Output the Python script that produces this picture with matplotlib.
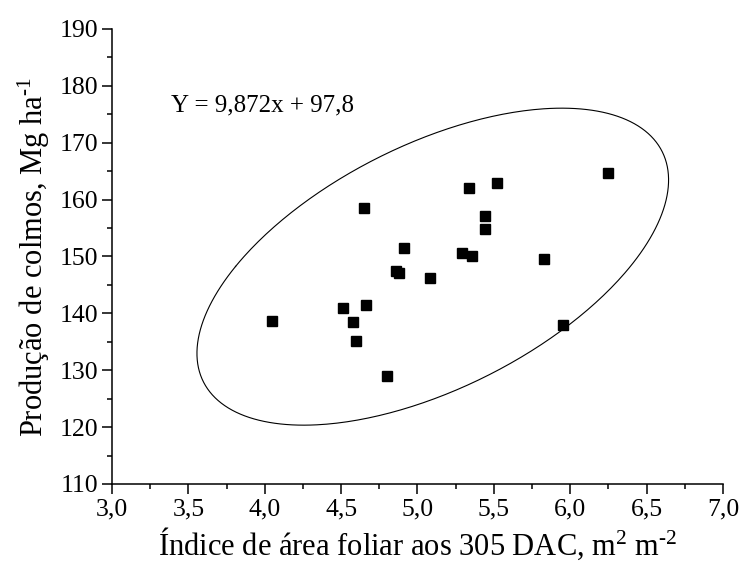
import numpy as np
import matplotlib
matplotlib.use("Agg")
import matplotlib.pyplot as plt
from matplotlib.ticker import MultipleLocator, FuncFormatter

plt.rcParams['font.family'] = ['Liberation Serif', 'DejaVu Serif']
plt.rcParams['mathtext.fontset'] = 'custom'
plt.rcParams['mathtext.rm'] = 'Liberation Serif'
plt.rcParams['mathtext.it'] = 'Liberation Serif:italic'

# leaf area index (x) and stalk yield (y)
iaf = [4.05, 4.51, 4.66, 4.58, 4.60, 4.80, 4.65, 4.91, 4.86, 4.88,
       5.08, 5.29, 5.36, 5.34, 5.52, 5.44, 5.44, 5.83, 5.95, 6.25]
producao = [138.7, 141.0, 141.4, 138.5, 135.1, 128.9, 158.5, 151.5, 147.4, 147.1,
            146.3, 150.7, 150.0, 162.0, 163.0, 157.2, 154.8, 149.5, 137.9, 164.7]
equacao = "Y = 9,872x + 97,8"

x = np.array(iaf)
y = np.array(producao)
n = len(x)

# 95% confidence ellipse for the population (Origin style)
cov = np.cov(x, y)
f95 = (n - 2) / 2 * (0.05 ** (-2 / (n - 2)) - 1)
k2 = 2 * (n - 1) * (n + 1) / (n * (n - 2)) * f95
vals, vecs = np.linalg.eigh(cov)
t = np.linspace(0, 2 * np.pi, 400)
circ = np.vstack([np.cos(t), np.sin(t)])
ell = vecs @ (np.sqrt(vals * k2)[:, None] * circ)
ex = ell[0] + x.mean()
ey = ell[1] + y.mean()

fig = plt.figure(figsize=(7.42, 5.67), dpi=100)
ax = fig.add_axes([0.1509, 0.1464, 0.8235, 0.8025])

ax.plot(ex, ey, color='black', lw=0.8)
ax.plot(x, y, 's', color='black', ms=7)

ax.text(3.386, 176.6, equacao, fontsize=18, ha='left', va='center')

ax.set_xlim(3.0, 7.0)
ax.set_ylim(110, 190)
ax.xaxis.set_major_locator(MultipleLocator(0.5))
ax.xaxis.set_minor_locator(MultipleLocator(0.25))
ax.yaxis.set_major_locator(MultipleLocator(10))
ax.yaxis.set_minor_locator(MultipleLocator(5))
ax.xaxis.set_major_formatter(FuncFormatter(lambda v, p: f"{v:.1f}".replace('.', ',')))

for s in ['top', 'right']:
    ax.spines[s].set_visible(False)
for s in ['left', 'bottom']:
    ax.spines[s].set_linewidth(1.1)
ax.tick_params(which='major', direction='out', length=7.2, width=1.1, labelsize=18.5, pad=3)
ax.tick_params(which='minor', direction='out', length=3.6, width=1.1)

ax.set_xlabel(r"Índice de área foliar aos 305 DAC, m$^{2}$ m$^{\text{-}2}$", fontsize=22, labelpad=4)
ax.set_ylabel(r"Produção de colmos, Mg ha$^{\text{-}1}$", fontsize=22, labelpad=5)

fig.savefig("out.png", dpi=100)
